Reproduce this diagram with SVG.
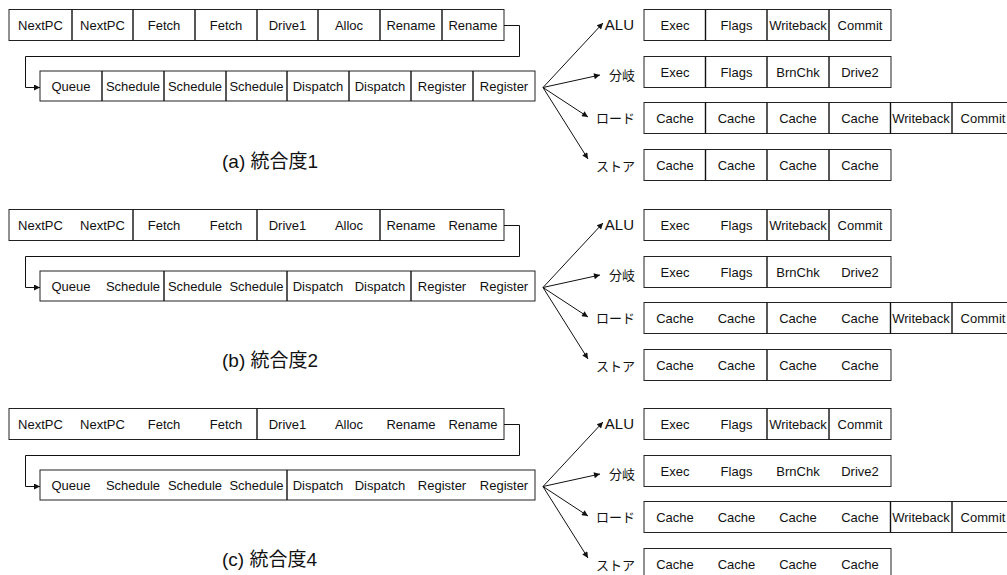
<svg xmlns="http://www.w3.org/2000/svg" width="1007" height="575" viewBox="0 0 1007 575">
<style>
text{font-family:"Liberation Sans","Noto Sans CJK JP",sans-serif;fill:#111}
.c{font-size:13px;text-anchor:middle}
.lbl{font-size:13px;text-anchor:end}
.alu{font-size:15px;text-anchor:end}
.cap{font-size:19px}
.box{fill:#fff;stroke:#222;stroke-width:1}
.dv{stroke:#111;stroke-width:1.4}
.ln{fill:none;stroke:#111;stroke-width:1}
</style>
<defs>
<marker id="ah" viewBox="0 0 10 10" refX="10" refY="5" markerWidth="8" markerHeight="6" markerUnits="userSpaceOnUse" orient="auto">
<path d="M0,0L10,5L0,10z" fill="#111"/>
</marker>
</defs>

<!-- ===== (a) ===== -->
<g id="sec-a">
<g id="a-front">
<rect class="box" x="9" y="9.5" width="495" height="31"/>
<path class="dv" d="M72,9.5V40.5M133,9.5V40.5M195,9.5V40.5M257,9.5V40.5M318,9.5V40.5M380,9.5V40.5M442,9.5V40.5"/>
<text class="c" x="40.5" y="30">NextPC</text><text class="c" x="102.5" y="30">NextPC</text><text class="c" x="164" y="30">Fetch</text><text class="c" x="226" y="30">Fetch</text><text class="c" x="287.5" y="30">Drive1</text><text class="c" x="349" y="30">Alloc</text><text class="c" x="411" y="30">Rename</text><text class="c" x="473" y="30">Rename</text>
</g>
<g id="a-back">
<rect class="box" x="40" y="71" width="495" height="30"/>
<path class="dv" d="M102,71V101M164,71V101M226,71V101M287,71V101M349,71V101M411,71V101M473,71V101"/>
<text class="c" x="71" y="91">Queue</text><text class="c" x="133" y="91">Schedule</text><text class="c" x="195" y="91">Schedule</text><text class="c" x="256.5" y="91">Schedule</text><text class="c" x="318" y="91">Dispatch</text><text class="c" x="380" y="91">Dispatch</text><text class="c" x="442" y="91">Register</text><text class="c" x="504" y="91">Register</text>
</g>
<g id="a-alu">
<text class="alu" x="634" y="30">ALU</text>
<rect class="box" x="644" y="9.5" width="247" height="31"/>
<path class="dv" d="M705.5,9.5V40.5M767,9.5V40.5M829,9.5V40.5"/>
<text class="c" x="675" y="30">Exec</text><text class="c" x="736.5" y="30">Flags</text><text class="c" x="798" y="30">Writeback</text><text class="c" x="860" y="30">Commit</text>
</g>
<g id="a-branch">
<text class="lbl" x="635" y="79.5">分岐</text>
<rect class="box" x="644" y="56.5" width="247" height="31"/>
<path class="dv" d="M705.5,56.5V87.5M767,56.5V87.5M829,56.5V87.5"/>
<text class="c" x="675" y="77">Exec</text><text class="c" x="736.5" y="77">Flags</text><text class="c" x="798" y="77">BrnChk</text><text class="c" x="860" y="77">Drive2</text>
</g>
<g id="a-load">
<text class="lbl" x="635" y="122.5">ロード</text>
<rect class="box" x="644" y="102.5" width="370" height="31"/>
<path class="dv" d="M705.5,102.5V133.5M767,102.5V133.5M829,102.5V133.5M890.5,102.5V133.5M952,102.5V133.5"/>
<text class="c" x="675" y="123">Cache</text><text class="c" x="736.5" y="123">Cache</text><text class="c" x="798" y="123">Cache</text><text class="c" x="860" y="123">Cache</text><text class="c" x="921" y="123">Writeback</text><text class="c" x="983" y="123">Commit</text>
</g>
<g id="a-store">
<text class="lbl" x="635" y="170.5">ストア</text>
<rect class="box" x="644" y="149.5" width="247" height="31"/>
<path class="dv" d="M705.5,149.5V180.5M767,149.5V180.5M829,149.5V180.5"/>
<text class="c" x="675" y="170">Cache</text><text class="c" x="736.5" y="170">Cache</text><text class="c" x="798" y="170">Cache</text><text class="c" x="860" y="170">Cache</text>
</g>
<g id="a-caption"><text class="cap" x="222" y="168">(a) 統合度1</text></g>
<g id="a-connectors">
<path class="ln" d="M504,25.5H519.5V56.5H25.5V87.5H40" marker-end="url(#ah)"/>
<path class="ln" d="M543,87.5L603,23" marker-end="url(#ah)"/>
<path class="ln" d="M543,87.5L600,75" marker-end="url(#ah)"/>
<path class="ln" d="M543,87.5L588,117" marker-end="url(#ah)"/>
<path class="ln" d="M543,87.5L588,159" marker-end="url(#ah)"/>
</g>
</g>

<!-- ===== (b) ===== -->
<g id="sec-b" transform="translate(0,200)">
<g id="b-front">
<rect class="box" x="9" y="9.5" width="495" height="31"/>
<path class="dv" d="M133,9.5V40.5M257,9.5V40.5M380,9.5V40.5"/>
<text class="c" x="40.5" y="30">NextPC</text><text class="c" x="102.5" y="30">NextPC</text><text class="c" x="164" y="30">Fetch</text><text class="c" x="226" y="30">Fetch</text><text class="c" x="287.5" y="30">Drive1</text><text class="c" x="349" y="30">Alloc</text><text class="c" x="411" y="30">Rename</text><text class="c" x="473" y="30">Rename</text>
</g>
<g id="b-back">
<rect class="box" x="40" y="71" width="495" height="30"/>
<path class="dv" d="M164,71V101M287,71V101M411,71V101"/>
<text class="c" x="71" y="91">Queue</text><text class="c" x="133" y="91">Schedule</text><text class="c" x="195" y="91">Schedule</text><text class="c" x="256.5" y="91">Schedule</text><text class="c" x="318" y="91">Dispatch</text><text class="c" x="380" y="91">Dispatch</text><text class="c" x="442" y="91">Register</text><text class="c" x="504" y="91">Register</text>
</g>
<g id="b-alu">
<text class="alu" x="634" y="30">ALU</text>
<rect class="box" x="644" y="9.5" width="247" height="31"/>
<path class="dv" d="M767,9.5V40.5M829,9.5V40.5"/>
<text class="c" x="675" y="30">Exec</text><text class="c" x="736.5" y="30">Flags</text><text class="c" x="798" y="30">Writeback</text><text class="c" x="860" y="30">Commit</text>
</g>
<g id="b-branch">
<text class="lbl" x="635" y="79.5">分岐</text>
<rect class="box" x="644" y="56.5" width="247" height="31"/>
<path class="dv" d="M767,56.5V87.5"/>
<text class="c" x="675" y="77">Exec</text><text class="c" x="736.5" y="77">Flags</text><text class="c" x="798" y="77">BrnChk</text><text class="c" x="860" y="77">Drive2</text>
</g>
<g id="b-load">
<text class="lbl" x="635" y="122.5">ロード</text>
<rect class="box" x="644" y="102.5" width="370" height="31"/>
<path class="dv" d="M767,102.5V133.5M890.5,102.5V133.5M952,102.5V133.5"/>
<text class="c" x="675" y="123">Cache</text><text class="c" x="736.5" y="123">Cache</text><text class="c" x="798" y="123">Cache</text><text class="c" x="860" y="123">Cache</text><text class="c" x="921" y="123">Writeback</text><text class="c" x="983" y="123">Commit</text>
</g>
<g id="b-store">
<text class="lbl" x="635" y="170.5">ストア</text>
<rect class="box" x="644" y="149.5" width="247" height="31"/>
<path class="dv" d="M767,149.5V180.5"/>
<text class="c" x="675" y="170">Cache</text><text class="c" x="736.5" y="170">Cache</text><text class="c" x="798" y="170">Cache</text><text class="c" x="860" y="170">Cache</text>
</g>
<g id="b-caption"><text class="cap" x="222" y="167">(b) 統合度2</text></g>
<g id="b-connectors">
<path class="ln" d="M504,25.5H519.5V56.5H25.5V87.5H40" marker-end="url(#ah)"/>
<path class="ln" d="M543,87.5L603,23" marker-end="url(#ah)"/>
<path class="ln" d="M543,87.5L600,75" marker-end="url(#ah)"/>
<path class="ln" d="M543,87.5L588,117" marker-end="url(#ah)"/>
<path class="ln" d="M543,87.5L588,159" marker-end="url(#ah)"/>
</g>
</g>

<!-- ===== (c) ===== -->
<g id="sec-c" transform="translate(0,399)">
<g id="c-front">
<rect class="box" x="9" y="9.5" width="495" height="31"/>
<path class="dv" d="M257,9.5V40.5"/>
<text class="c" x="40.5" y="30">NextPC</text><text class="c" x="102.5" y="30">NextPC</text><text class="c" x="164" y="30">Fetch</text><text class="c" x="226" y="30">Fetch</text><text class="c" x="287.5" y="30">Drive1</text><text class="c" x="349" y="30">Alloc</text><text class="c" x="411" y="30">Rename</text><text class="c" x="473" y="30">Rename</text>
</g>
<g id="c-back">
<rect class="box" x="40" y="71" width="495" height="30"/>
<path class="dv" d="M287,71V101"/>
<text class="c" x="71" y="91">Queue</text><text class="c" x="133" y="91">Schedule</text><text class="c" x="195" y="91">Schedule</text><text class="c" x="256.5" y="91">Schedule</text><text class="c" x="318" y="91">Dispatch</text><text class="c" x="380" y="91">Dispatch</text><text class="c" x="442" y="91">Register</text><text class="c" x="504" y="91">Register</text>
</g>
<g id="c-alu">
<text class="alu" x="634" y="30">ALU</text>
<rect class="box" x="644" y="9.5" width="247" height="31"/>
<path class="dv" d="M767,9.5V40.5M829,9.5V40.5"/>
<text class="c" x="675" y="30">Exec</text><text class="c" x="736.5" y="30">Flags</text><text class="c" x="798" y="30">Writeback</text><text class="c" x="860" y="30">Commit</text>
</g>
<g id="c-branch">
<text class="lbl" x="635" y="79.5">分岐</text>
<rect class="box" x="644" y="56.5" width="247" height="31"/>
<text class="c" x="675" y="77">Exec</text><text class="c" x="736.5" y="77">Flags</text><text class="c" x="798" y="77">BrnChk</text><text class="c" x="860" y="77">Drive2</text>
</g>
<g id="c-load">
<text class="lbl" x="635" y="122.5">ロード</text>
<rect class="box" x="644" y="102.5" width="370" height="31"/>
<path class="dv" d="M890.5,102.5V133.5M952,102.5V133.5"/>
<text class="c" x="675" y="123">Cache</text><text class="c" x="736.5" y="123">Cache</text><text class="c" x="798" y="123">Cache</text><text class="c" x="860" y="123">Cache</text><text class="c" x="921" y="123">Writeback</text><text class="c" x="983" y="123">Commit</text>
</g>
<g id="c-store">
<text class="lbl" x="635" y="170.5">ストア</text>
<rect class="box" x="644" y="149.5" width="247" height="31"/>
<text class="c" x="675" y="170">Cache</text><text class="c" x="736.5" y="170">Cache</text><text class="c" x="798" y="170">Cache</text><text class="c" x="860" y="170">Cache</text>
</g>
<g id="c-caption"><text class="cap" x="222" y="167">(c) 統合度4</text></g>
<g id="c-connectors">
<path class="ln" d="M504,25.5H519.5V56.5H25.5V87.5H40" marker-end="url(#ah)"/>
<path class="ln" d="M543,87.5L603,23" marker-end="url(#ah)"/>
<path class="ln" d="M543,87.5L600,75" marker-end="url(#ah)"/>
<path class="ln" d="M543,87.5L588,117" marker-end="url(#ah)"/>
<path class="ln" d="M543,87.5L588,159" marker-end="url(#ah)"/>
</g>
</g>
</svg>
